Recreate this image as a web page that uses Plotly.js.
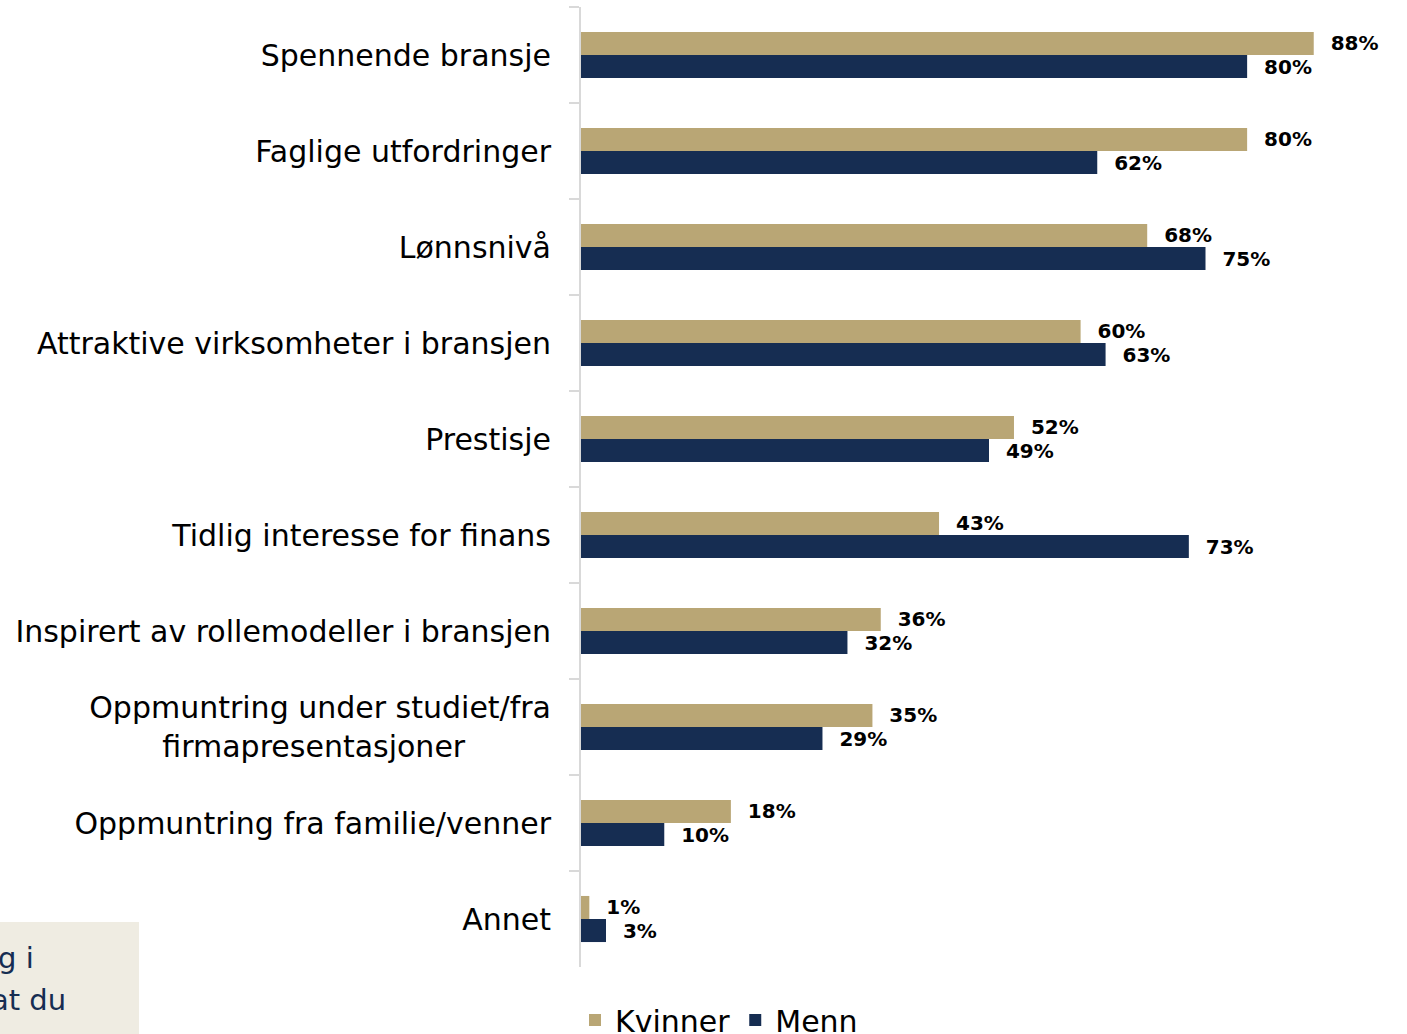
<!DOCTYPE html>
<html>
<head>
<meta charset="utf-8">
<script src="https://cdn.plot.ly/plotly-3.0.1.min.js"></script>
<style>html,body{margin:0;padding:0;background:#fff;overflow:hidden}#chart{width:1407px;height:1034px}</style>
</head>
<body>
<div id="chart"></div>
<script>
const categories = [
  "Spennende bransje",
  "Faglige utfordringer",
  "Lønnsnivå",
  "Attraktive virksomheter i bransjen",
  "Prestisje",
  "Tidlig interesse for finans",
  "Inspirert av rollemodeller i bransjen",
  "Oppmuntring under studiet/fra<br>firmapresentasjoner\u00a0\u00a0\u00a0\u00a0\u00a0\u00a0\u00a0\u00a0\u00a0",
  "Oppmuntring fra familie/venner",
  "Annet"
];
const kvinner = [88, 80, 68, 60, 52, 43, 36, 35, 18, 1];
const menn    = [80, 62, 75, 63, 49, 73, 32, 29, 10, 3];
const seriesNames = ["Kvinner", "Menn"];
const boxLines = ["g i", "at du"];

const FONT = "DejaVu Sans";
const W = 1407, H = 1034, L = 581, T = 7, B = 67;
const plotW = W - L, plotH = H - T - B;
const px2x = p => (p - L) / plotW;
const py2y = p => (H - B - p) / plotH;

function barTrace(name, vals, color) {
  return {
    type: "bar", orientation: "h", name: name,
    y: categories, x: vals,
    marker: {color: color},
    text: vals.map(v => "\u00a0\u00a0" + v + "%"),
    textposition: "outside",
    constraintext: "none",
    cliponaxis: false,
    textfont: {family: FONT, size: 20, color: "#000", weight: "bold"},
    hoverinfo: "x+y"
  };
}

const data = [
  barTrace(seriesNames[0], kvinner, "#b9a675"),
  barTrace(seriesNames[1], menn, "#162d52")
];

const layout = {
  width: W, height: H,
  margin: {l: L, r: 0, t: T, b: B, autoexpand: false},
  paper_bgcolor: "#fff", plot_bgcolor: "#fff",
  barmode: "group", bargap: 0.52, bargroupgap: 0,
  font: {family: FONT, color: "#000"},
  xaxis: {range: [0, 99.2], showgrid: false, zeroline: false, showticklabels: false, showline: false, ticks: "", fixedrange: true},
  yaxis: {
    autorange: "reversed", type: "category",
    showline: true, linecolor: "#d9d9d9", linewidth: 2,
    ticks: "outside", tickson: "boundaries", ticklen: 10, tickwidth: 2, tickcolor: "#d9d9d9",
    ticklabelstandoff: 22,
    tickfont: {family: FONT, size: 30, color: "#000"},
    showgrid: false, zeroline: false
  },
  showlegend: true,
  legend: {orientation: "h", x: px2x(575), xanchor: "left", y: py2y(1020), yanchor: "middle",
           font: {family: FONT, size: 30, color: "#000"}, itemwidth: 30, traceorder: "normal", bgcolor: "rgba(0,0,0,0)"},
  shapes: [{type: "rect", xref: "paper", yref: "paper", x0: px2x(-5), x1: px2x(139), y0: py2y(922), y1: py2y(1045),
            fillcolor: "#efece2", line: {width: 0}, layer: "below"}],
  annotations: [
    {xref: "paper", yref: "paper", x: px2x(36), y: py2y(958), xanchor: "right", yanchor: "middle", showarrow: false,
     text: boxLines[0], font: {family: FONT, size: 29, color: "#162d52"}},
    {xref: "paper", yref: "paper", x: px2x(68), y: py2y(1000), xanchor: "right", yanchor: "middle", showarrow: false,
     text: boxLines[1], font: {family: FONT, size: 29, color: "#162d52"}}
  ]
};

Plotly.newPlot("chart", data, layout, {displayModeBar: false, staticPlot: true});
</script>
</body>
</html>
